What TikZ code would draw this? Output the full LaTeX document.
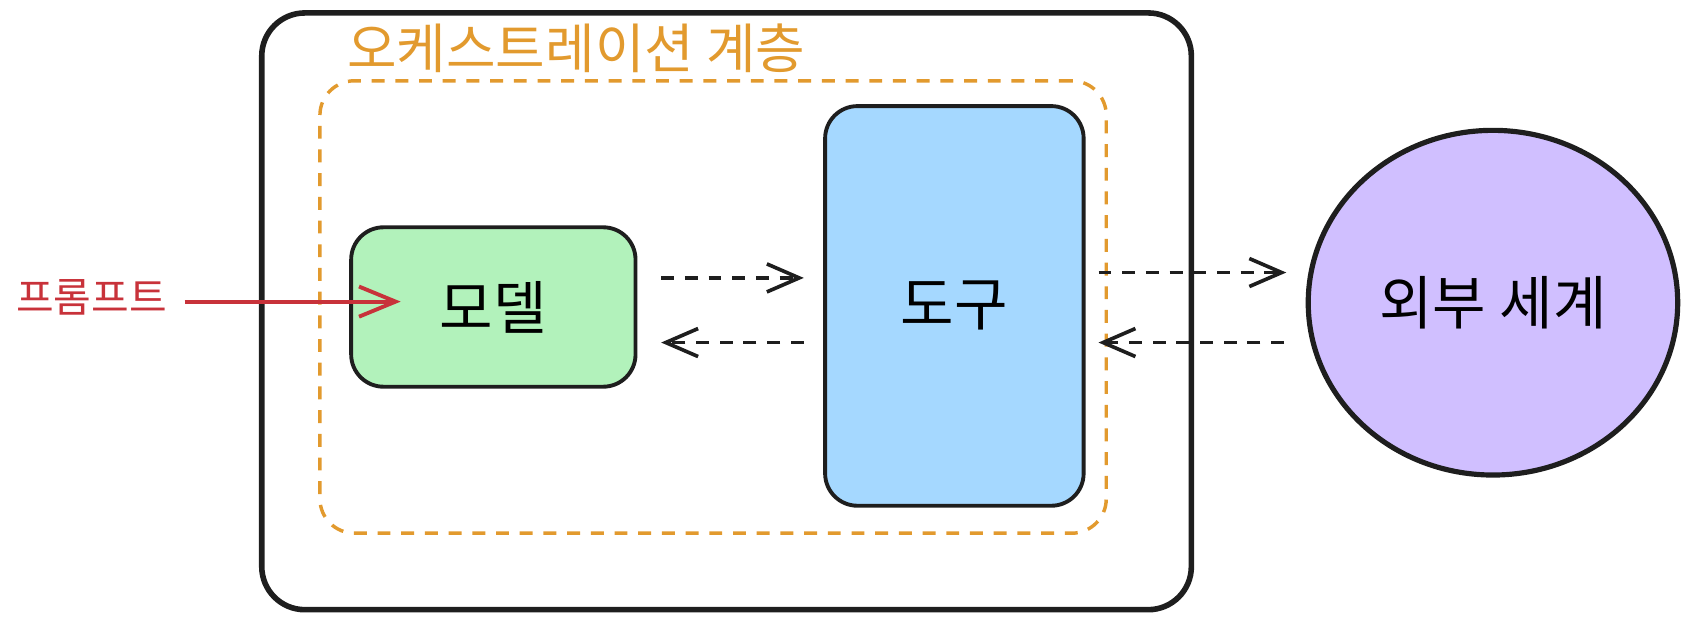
\documentclass[tikz,border=0pt]{standalone}
\usepackage{fontspec}
\setmainfont{Noto Sans CJK KR}
\usetikzlibrary{arrows.meta,shapes.geometric,calc}
\definecolor{inkblack}{HTML}{1E1E1E}
\definecolor{orchorange}{HTML}{E29A2E}
\definecolor{promptred}{HTML}{C8323A}
\definecolor{modelgreen}{HTML}{B2F2BB}
\definecolor{toolblue}{HTML}{A5D8FF}
\definecolor{worldpurple}{HTML}{D0BFFF}
\tikzset{
  outerbox/.style={draw=inkblack, line width=2.6pt, rounded corners=20pt, inner sep=0pt},
  orchbox/.style={draw=orchorange, line width=1.6pt, dash pattern=on 6pt off 5pt, rounded corners=16pt, inner sep=0pt},
  greenbox/.style={draw=inkblack, fill=modelgreen, line width=1.8pt, rounded corners=15pt, inner sep=0pt, font=\fontsize{27}{30}\selectfont},
  bluebox/.style={draw=inkblack, fill=toolblue, line width=1.8pt, rounded corners=15pt, inner sep=0pt, font=\fontsize{27}{30}\selectfont},
  worldcircle/.style={ellipse, draw=inkblack, fill=worldpurple, line width=2.4pt, inner sep=0pt, font=\fontsize{27}{30}\selectfont},
  titletext/.style={text=orchorange, inner sep=0pt, font=\fontsize{25}{28}\selectfont},
  prompttext/.style={text=promptred, inner sep=0pt, font=\fontsize{19}{22}\selectfont},
  dasharr/.style={draw=inkblack, line width=1.7pt, dash pattern=on 6pt off 5pt, -{Straight Barb[length=15pt, width=13pt, line width=1.7pt]}},
  redarr/.style={draw=promptred, line width=1.8pt, -{Straight Barb[length=17pt, width=14pt, line width=1.8pt]}}
}
\begin{document}
\begin{tikzpicture}[x=0.5pt, y=-0.5pt]
\useasboundingbox (0,0) rectangle (1568,579);
\node[outerbox, minimum width=431.5pt, minimum height=277pt] (outer) at (674.5,289) {};
\node[orchbox, minimum width=365pt, minimum height=210pt] (orch) at (662,285) {};
\node[titletext] (title) at (535,45) {오케스트레이션 계층};
\node[greenbox, minimum width=132pt, minimum height=74pt] (model) at (458,285) {모델};
\node[bluebox, minimum width=120pt, minimum height=185.5pt] (tool) at (886,284) {도구};
\node[worldcircle, minimum width=171.5pt, minimum height=160pt] (world) at (1386,281) {외부 세계};
\node[prompttext] (prompt) at (85,276) {프롬프트};
\coordinate (pin) at (372,280);
\draw[redarr] ([xshift=8pt,yshift=-2pt]prompt.east) -- (pin);
\draw[dasharr] ($(model.east)+(11pt,13.5pt)$) -- ($(tool.west)+(-9pt,13pt)$);
\draw[dasharr] ($(tool.west)+(-9pt,-17pt)$) -- ($(model.east)+(11pt,-16.5pt)$);
\draw[dasharr] ($(tool.east)+(6pt,15.5pt)$) -- ($(world.west)+(-9pt,14pt)$);
\draw[dasharr] ($(world.west)+(-10pt,-18.5pt)$) -- ($(tool.east)+(6pt,-17pt)$);
\end{tikzpicture}
\end{document}
